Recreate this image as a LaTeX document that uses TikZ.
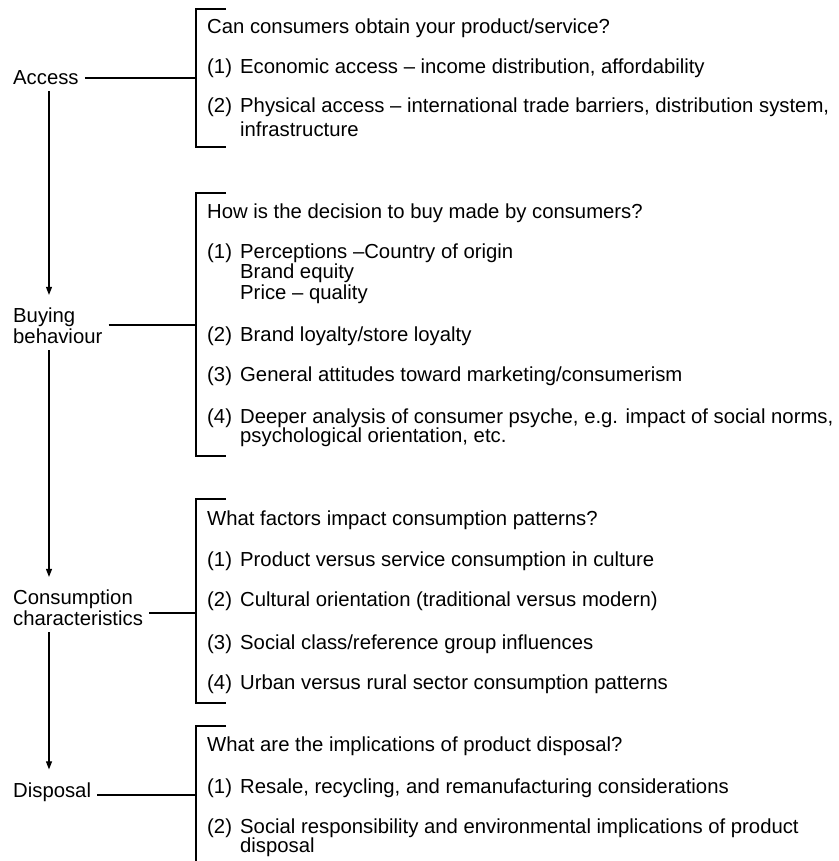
\documentclass[tikz,border=0pt]{standalone}
\usepackage{fontspec}
\setmainfont{Liberation Sans}
\usetikzlibrary{arrows.meta}

\tikzset{
  lbl/.style={anchor=west, align=left, inner sep=3pt},
  txt/.style={anchor=base west, inner sep=0pt},
  brk/.style={line width=1.1pt},
  link/.style={brk, shorten <=3pt},
  flow/.style={line width=1.1pt, -{Triangle[length=8pt,width=6pt]}, shorten <=3pt, shorten >=10pt}
}
\newcommand{\nbox}[1]{\makebox[33pt][l]{(#1)}}
\newcommand{\wrapped}[1]{\begin{tabular}[t]{@{}l@{}}#1\end{tabular}}

\begin{document}
\begin{tikzpicture}[x=1pt, y=-1pt, font=\fontsize{20.3}{21}\selectfont]
  \useasboundingbox (0,0) rectangle (838,861);
  \coordinate (spine) at (49,0);
  % stages on the left
  \node[lbl] (acc)  at (10,78)  {Access};
  \node[lbl] (buy)  at (10,326) {Buying\\behaviour};
  \node[lbl] (cons) at (10,608) {Consumption\\characteristics};
  \node[lbl] (disp) at (10,792) {Disposal};
  \draw[flow] (acc.south -| spine) -- (buy.north -| spine);
  \draw[flow] (buy.south -| spine) -- (cons.north -| spine);
  \draw[flow] (cons.south -| spine) -- (disp.north -| spine);

  % brackets
  \coordinate (b1) at (196,78);
  \coordinate (b2) at (196,325);
  \coordinate (b3) at (196,613);
  \coordinate (b4) at (196,795);
  \draw[brk] (226,9) -- (196,9) -- (196,147) -- (226,147);
  \draw[brk] (226,193) -- (196,193) -- (196,456) -- (226,456);
  \draw[brk] (226,499) -- (196,499) -- (196,703) -- (226,703);
  \draw[brk] (226,726) -- (196,726) -- (196,861);
  \draw[link] (acc.east |- b1) -- (b1);
  \draw[link] (buy.east |- b2) -- (b2);
  \draw[link] (cons.east |- b3) -- (b3);
  \draw[link] (disp.east |- b4) -- (b4);

  % access
  \node[txt] (q1) at (207,34)  {Can consumers obtain your product/service?};
  \node[txt] (a1) at (207,74)  {\nbox{1}Economic access -- income distribution, affordability};
  \node[txt] (a2) at (207,113) {\nbox{2}\wrapped{Physical access -- international trade barriers, distribution system,\\[2pt]infrastructure}};
  % buying behaviour
  \node[txt] (q2) at (207,218) {How is the decision to buy made by consumers?};
  \node[txt] (p1) at (207,258) {\nbox{1}\wrapped{Perceptions --Country of origin\\[-0.5pt]Brand equity\\[-0.5pt]Price -- quality}};
  \node[txt] (p2) at (207,341) {\nbox{2}Brand loyalty/store loyalty};
  \node[txt] (p3) at (207,381) {\nbox{3}General attitudes toward marketing/consumerism};
  \node[txt] (p4) at (207,423) {\nbox{4}\wrapped{Deeper analysis of consumer psyche, e.g. impact of social norms,\\[-1.5pt]psychological orientation, etc.}};
  % consumption characteristics
  \node[txt] (q3) at (207,525) {What factors impact consumption patterns?};
  \node[txt] (c1) at (207,566) {\nbox{1}Product versus service consumption in culture};
  \node[txt] (c2) at (207,606) {\nbox{2}Cultural orientation (traditional versus modern)};
  \node[txt] (c3) at (207,649) {\nbox{3}Social class/reference group influences};
  \node[txt] (c4) at (207,689) {\nbox{4}Urban versus rural sector consumption patterns};
  % disposal
  \node[txt] (q4) at (207,751) {What are the implications of product disposal?};
  \node[txt] (d1) at (207,793) {\nbox{1}Resale, recycling, and remanufacturing considerations};
  \node[txt] (d2) at (207,833) {\nbox{2}\wrapped{Social responsibility and environmental implications of product\\[-1.5pt]disposal}};
\end{tikzpicture}
\end{document}
